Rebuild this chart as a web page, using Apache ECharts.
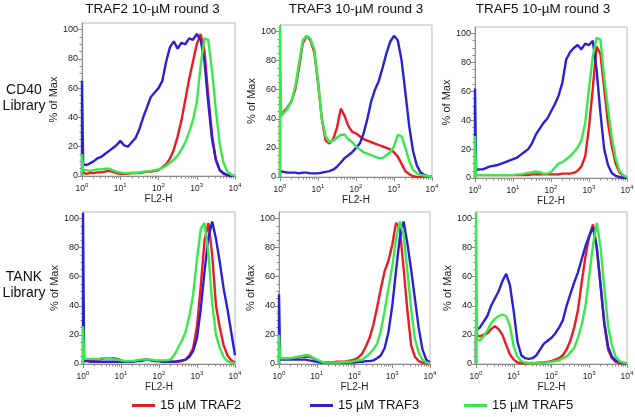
<!DOCTYPE html>
<html><head><meta charset="utf-8">
<script src="https://cdn.jsdelivr.net/npm/echarts@6/dist/echarts.min.js"></script>
<style>html,body{margin:0;padding:0;background:#fff}#c{width:635px;height:417px}</style>
</head><body><div id="c"></div>
<script>
// ---------- DATA ----------
// x positions: log10(FL2-H); the first two points draw the spike at the left edge
const logFL2 = [0, 0, 0.03, 0.1, 0.2, 0.3, 0.4, 0.5, 0.6, 0.7, 0.8, 0.9, 1.0,
  1.1, 1.2, 1.3, 1.4, 1.5, 1.6, 1.7, 1.8, 1.9, 2.0,
  2.1, 2.2, 2.3, 2.4, 2.5, 2.6, 2.7, 2.8, 2.9, 3.0,
  3.1, 3.2, 3.3, 3.4, 3.5, 3.6, 3.7, 3.8, 3.9, 4.0];

const columnTitles = ['TRAF2 10-\u00b5M round 3', 'TRAF3 10-\u00b5M round 3', 'TRAF5 10-\u00b5M round 3'];
const rowTitles = ['CD40\nLibrary', 'TANK\nLibrary'];
const seriesNames = ['15 \u00b5M TRAF2', '15 \u00b5M TRAF3', '15 \u00b5M TRAF5'];
const yTickLabels = [0, 20, 40, 60, 80, 100];

// CD40 library, TRAF2 panel
const cd40_TRAF2_red   = [0,3,2, 1.5,2,2,2.5,2.5,3,3.5,3,2,1.5, 1.5,1.5,2,2,2,2.5,3,3,3.5,4, 6,8,12,18,27,38,52,66,78,90, 97,86,55,28,11,4,1.5,0.5,0,0];
const cd40_TRAF2_blue  = [0,65,8, 7.5,8.5,10,12,13,15,17,19,21,24, 21,20,23,26,32,40,47,54,57,60, 65,78,88,92,87,91,90,94,93,97, 93,79,50,25,11,4,2,0.7,0,0];
const cd40_TRAF2_green = [0,15,4, 4,3.5,4,4.5,4.5,5,5,4,3,2.5, 2,2,2,2,2.5,3,3,3.5,4,4.5, 5.5,7,9,11,14,18,23,30,38,50, 75,94,93,72,45,22,9,3,1,0];
// CD40 library, TRAF3 panel
const cd40_TRAF3_red   = [0,42,42, 45,48,52,60,75,92,97,94,86,65, 40,25,23,26,34,47,42,35,31,30, 28,26,25,24,23,22,21,20,19,17, 14,9,4,2,0.5,0,0,0,0,0];
const cd40_TRAF3_blue  = [0,4,4, 3.5,3,3,3,2.5,3,3,2.5,2.5,2.5, 3,3.5,4,5,7,10,13,15,17,20, 23,30,40,52,60,66,75,85,93,97, 94,80,58,35,18,8,3,1.5,0.5,0];
const cd40_TRAF3_green = [0,104,42, 44,47,52,62,78,94,97,95,88,66, 40,28,24,25,27,29,29,26,24,21, 19,17,16,15,14,13,13,15,17,21, 29,28,20,11,5,2.5,1.5,1,0.5,0];
// CD40 library, TRAF5 panel
const cd40_TRAF5_red   = [0,2,2, 2,2,2,2,2,2,2,2,2,2, 2,2,2,2,2.5,2.5,2.5,2.5,2.5,2.5, 2.5,2.5,3,3,3,3.5,5,8,15,35, 62,91,86,62,38,22,10,4,1.5,0.5];
const cd40_TRAF5_blue  = [0,62,5.5, 6,6,7,8,8.5,9,10,11,12,13, 14,16,18,20,24,30,34,38,41,46, 51,57,66,82,87,90,92,89,93,92, 95,75,45,20,9,3.5,1.5,0.7,0,0];
const cd40_TRAF5_green = [0,29,2, 2,2,2,2,2,2,2,2,2,2, 2.5,2.5,3,3.5,4,4.5,4,3,3,4, 7,10,11,13,15,18,21,26,38,62, 84,97,96,70,48,28,14,5,2,0.5];
// TANK library, TRAF2 panel
const tank_TRAF2_red   = [0,3,3, 2.5,2.5,3,3,3.5,4,4,4,3.5,2.5, 2,2,2,2,2.5,3,3,2.5,2,2, 1.5,1.5,1.5,1.5,1.5,2,3,6,11,26, 54,85,97,75,40,25,13,6,2.5,1];
const tank_TRAF2_blue  = [0,104,2, 2,1.5,1.5,1.5,1.5,1.5,1.5,1.5,1.5,1.5, 1.5,1.5,1.5,2,2,2.5,3,2.5,2,2, 1.5,1.5,1.5,1.5,2,2.5,3,5,9,18, 38,64,87,98,86,70,52,38,22,6];
const tank_TRAF2_green = [0,26,3.5, 3.5,3.5,3.5,3.5,4,4,4,3.5,3,2.5, 2,2,2,2.5,3,3,3,3,2.5,2.5, 2.5,2.5,3,6,11,16,22,33,48,72, 93,97,76,42,20,11,5,2,1,0.5];
// TANK library, TRAF3 panel
const tank_TRAF3_red   = [0,4,4, 3.5,3.5,4,4,4.5,5,5,5,4,2.5, 1.5,1,1,1,1.5,1.5,1.5,2,2.5,3, 4.5,7,12,18,27,39,52,64,71,82, 97,93,66,37,13,5,2,1,0.5,0];
const tank_TRAF3_blue  = [0,48,3, 3,3,3,3,3,3,3,2.5,2,1.5, 1,1,1,1,1,1,1,1,1,1, 1.5,1.5,2,2,2.5,4,6,11,22,40, 64,87,98,83,65,45,25,10,3,1];
const tank_TRAF3_green = [0,20,4, 4,4,4,4.5,5,5.5,6,6,4.5,3, 2,1,1,1,1,1,1.5,1.5,1.5,2, 2.5,3,5,7,10,14,23,37,52,67, 86,98,89,64,38,17,8,3,1,0.5];
// TANK library, TRAF5 panel
const tank_TRAF5_red   = [0,20,20, 19,20,21,24,26,24,20,13,6.5,3, 1,0.7,0.5,0.5,0.5,0.7,1,1,1.5,2, 3,4,6,10,16,25,37,56,74,88, 96,80,54,27,10,4,1.5,0.5,0.3,0];
const tank_TRAF5_blue  = [0,23,23, 25,29,33,40,45,50,57,62,54,36, 15,6,4,3.5,4,6,10,14,16,18, 21,25,30,40,48,56,63,72,81,88, 94,80,54,28,12,5,2.5,1.5,0.7,0.3];
const tank_TRAF5_green = [0,104,17, 16,19,23,28,31,33,34,33,26,12, 5,2,1,0.7,0.7,0.7,1,1,1.2,1.5, 2,2.5,4,5,8,11,18,27,40,61, 82,97,80,52,26,13,5,2,1,0.5];

// ---------- LAYOUT / STYLE ----------
const FONT = '"Liberation Sans", Arial, Helvetica, sans-serif';
const colors = ['#ec1a22', '#2a20d6', '#38e84c'];
const panels = [
  [cd40_TRAF2_red, cd40_TRAF2_blue, cd40_TRAF2_green],
  [cd40_TRAF3_red, cd40_TRAF3_blue, cd40_TRAF3_green],
  [cd40_TRAF5_red, cd40_TRAF5_blue, cd40_TRAF5_green],
  [tank_TRAF2_red, tank_TRAF2_blue, tank_TRAF2_green],
  [tank_TRAF3_red, tank_TRAF3_blue, tank_TRAF3_green],
  [tank_TRAF5_red, tank_TRAF5_blue, tank_TRAF5_green]
];
const boxes = [
  {left: 82, top: 23, width: 153, height: 153},
  {left: 280, top: 25, width: 152, height: 152},
  {left: 475, top: 27, width: 152, height: 151},
  {left: 83, top: 212, width: 152, height: 152},
  {left: 279, top: 212, width: 151, height: 152},
  {left: 476, top: 212, width: 151, height: 152}
];
const titleX = [152.5, 356, 543];
const rowY = [98, 285];
const legendLeft = [132, 310, 464];
const Y_MAX = 104.5;

// minor tick positions (axis decoration)
const minorX = [];
for (let d = 0; d < 4; d++) for (let k = 2; k <= 9; k++) minorX.push(d + Math.log10(k));
const minorY = [];
for (let v = 5; v < 104; v += 5) if (v % 20 !== 0) minorY.push(v);

const axisColor = '#8c8c8c';
const grids = [], xAxes = [], yAxes = [], series = [];
boxes.forEach((b, p) => {
  grids.push(Object.assign({show: true, borderColor: '#b8b8b8', borderWidth: 1,
    backgroundColor: 'rgba(0,0,0,0)', containLabel: false, outerBoundsMode: 'none'}, b));
  xAxes.push({
    gridIndex: p, type: 'value', min: 0, max: 4, interval: 1, position: 'bottom',
    axisLine: {show: true, onZero: false, lineStyle: {color: axisColor, width: 1}},
    axisTick: {show: true, length: 4, lineStyle: {color: axisColor}},
    splitLine: {show: false},
    axisLabel: {
      margin: 6, color: '#222', fontFamily: FONT,
      formatter: v => '{b|10}{s|' + v + '}',
      rich: {
        b: {fontSize: 8.5, lineHeight: 13, fontFamily: FONT, color: '#222'},
        s: {fontSize: 6, verticalAlign: 'top', fontFamily: FONT, color: '#222'}
      }
    },
    name: 'FL2-H', nameLocation: 'middle', nameGap: 17,
    nameTextStyle: {fontSize: 10, color: '#222', fontFamily: FONT}
  });
  xAxes.push({
    gridIndex: p, type: 'value', min: 0, max: 4, position: 'bottom',
    axisLine: {show: false}, axisLabel: {show: false}, splitLine: {show: false},
    axisTick: {show: true, length: 2.5, customValues: minorX, lineStyle: {color: axisColor}}
  });
  yAxes.push({
    gridIndex: p, type: 'value', min: 0, max: Y_MAX, position: 'left',
    axisLine: {show: true, onZero: false, lineStyle: {color: axisColor, width: 1}},
    axisTick: {show: true, length: 4, customValues: yTickLabels, lineStyle: {color: axisColor}},
    splitLine: {show: false},
    axisLabel: {customValues: yTickLabels, fontSize: 9, margin: 4, color: '#222', fontFamily: FONT},
    name: '% of Max', nameLocation: 'middle', nameGap: 19,
    nameTextStyle: {fontSize: 11, color: '#222', fontFamily: FONT}
  });
  yAxes.push({
    gridIndex: p, type: 'value', min: 0, max: Y_MAX, position: 'left',
    axisLine: {show: false}, axisLabel: {show: false}, splitLine: {show: false},
    axisTick: {show: true, length: 2.5, customValues: minorY, lineStyle: {color: axisColor}}
  });
  panels[p].forEach((vals, c) => {
    series.push({
      type: 'line', name: seriesNames[c], xAxisIndex: 2 * p, yAxisIndex: 2 * p,
      data: logFL2.map((x, i) => [x, vals[i]]),
      showSymbol: false, symbol: 'none', clip: true, animation: false,
      lineStyle: {width: 2.4, color: colors[c]}, itemStyle: {color: colors[c]},
      emphasis: {disabled: true}, z: 2 + c
    });
  });
});

const graphic = [];
columnTitles.forEach((t, i) => graphic.push({
  type: 'text', x: titleX[i], y: 9.5,
  style: {text: t, fontSize: 13.5, fontFamily: FONT, fill: '#111', align: 'center', verticalAlign: 'middle'}
}));
rowTitles.forEach((t, i) => graphic.push({
  type: 'text', x: 24, y: rowY[i],
  style: {text: t, fontSize: 14, lineHeight: 16, fontFamily: FONT, fill: '#111', align: 'center', verticalAlign: 'middle'}
}));

const legends = seriesNames.map((n, i) => ({
  data: [n], left: legendLeft[i], top: 399, padding: 0, icon: 'rect',
  itemWidth: 23, itemHeight: 3, itemGap: 0, selectedMode: false,
  textStyle: {fontSize: 13, fontFamily: FONT, color: '#111'}
}));

const chart = echarts.init(document.getElementById('c'), null, {renderer: 'canvas'});
chart.setOption({
  animation: false,
  backgroundColor: '#fff',
  grid: grids, xAxis: xAxes, yAxis: yAxes, series: series,
  legend: legends, graphic: graphic
});
</script>
</body></html>
